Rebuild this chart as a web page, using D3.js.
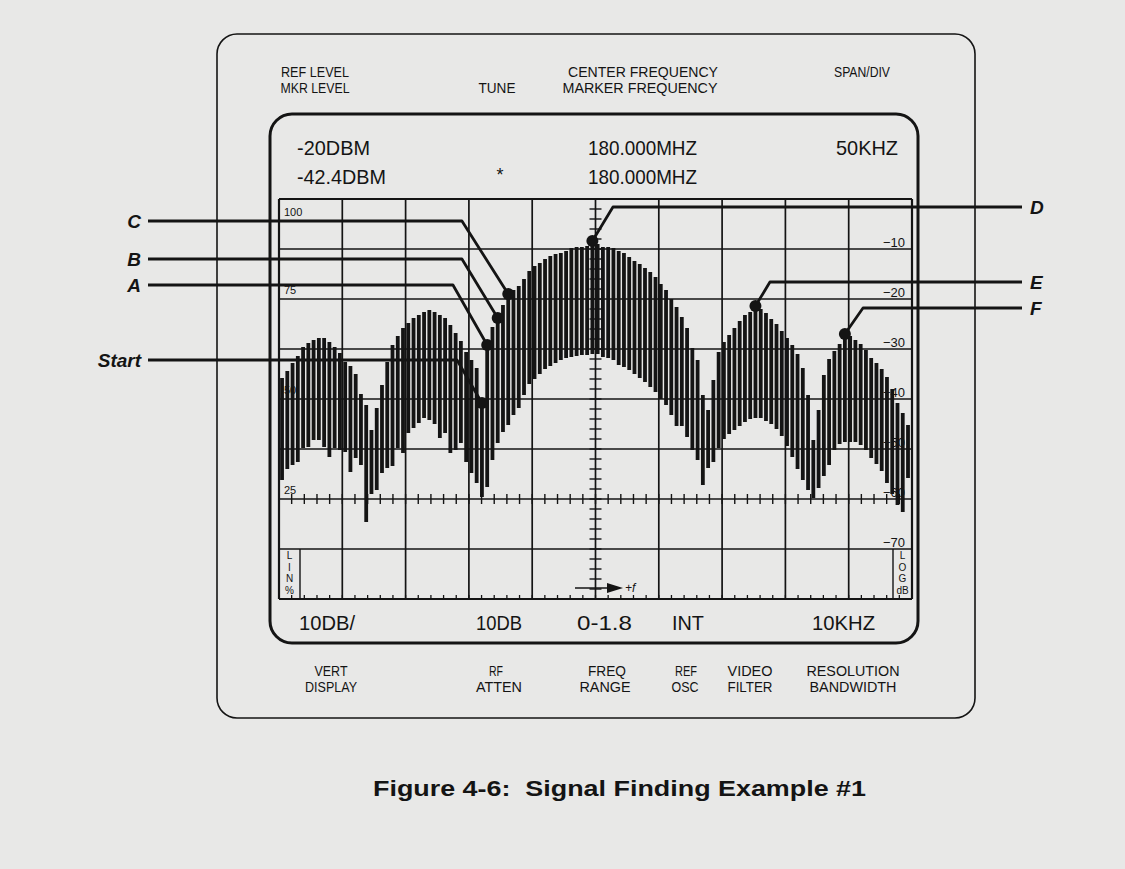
<!DOCTYPE html>
<html>
<head>
<meta charset="utf-8">
<script src="https://cdn.jsdelivr.net/npm/d3@7"></script>
<style>
  html, body { margin: 0; padding: 0; background: #e8e8e7; }
  svg { display: block; }
</style>
</head>
<body>
<svg id="chart" width="1125" height="869"></svg>
<script>
// ---- Spectrum analyzer trace (dB relative to top graticule line) ----
// Each sweep point is drawn as a vertical bar from its upper to its lower level.
const sweepTop = [
  -35.8, -34.4, -32.8, -31.4, -29.6, -28.8, -28.2, -27.8, -27.8, -28.6,
  -29.6, -30.8, -32.6, -33.4, -35.0, -39.0, -41.2, -46.2, -41.8, -37.2,
  -32.6, -29.2, -27.4, -25.8, -24.8, -23.8, -23.2, -22.6, -22.2, -22.6,
  -23.2, -23.8, -25.2, -26.8, -28.4, -30.6, -32.2, -33.8, -40.8, -29.2,
  -25.6, -23.8, -21.2, -19.0, -18.2, -17.4, -16.0, -14.4, -13.4, -12.8,
  -12.0, -11.4, -11.0, -10.8, -10.4, -9.8, -9.6, -9.6, -9.4, -8.4,
  -9.0, -9.6, -9.6, -9.8, -10.4, -10.8, -11.6, -12.4, -13.0, -13.8,
  -14.6, -15.6, -17.0, -18.2, -20.0, -21.6, -23.6, -25.8, -29.8, -32.2,
  -39.2, -42.2, -36.2, -30.6, -28.6, -27.2, -25.8, -24.4, -23.2, -22.6,
  -21.4, -22.0, -22.8, -24.0, -25.0, -26.4, -27.8, -29.2, -31.0, -33.8,
  -39.2, -48.2, -42.2, -35.2, -32.0, -30.4, -29.0, -27.0, -27.4, -28.2,
  -29.0, -30.2, -31.8, -32.8, -34.0, -35.6, -38.0, -40.8, -42.8, -45.2
];
const sweepBottom = [
  -56.2, -54.0, -53.2, -52.6, -49.8, -49.6, -48.2, -48.2, -49.6, -51.6,
  -49.8, -50.2, -50.6, -54.6, -51.8, -53.2, -64.6, -59.0, -58.2, -54.8,
  -53.8, -53.4, -49.8, -50.8, -46.8, -45.8, -44.8, -43.8, -44.2, -45.0,
  -47.8, -46.8, -50.8, -50.2, -48.8, -52.6, -54.8, -56.8, -59.6, -57.6,
  -52.2, -48.8, -46.6, -45.2, -43.2, -41.8, -39.2, -37.0, -36.0, -35.0,
  -34.0, -33.4, -32.8, -32.2, -31.8, -31.6, -31.4, -31.2, -31.2, -31.0,
  -31.0, -31.6, -31.8, -32.2, -33.2, -33.6, -34.2, -35.0, -35.8, -36.6,
  -37.6, -38.6, -40.0, -41.2, -43.2, -45.4, -45.4, -47.6, -50.2, -52.2,
  -57.2, -53.8, -52.6, -49.8, -48.0, -47.0, -46.2, -45.4, -44.6, -44.0,
  -43.8, -43.8, -44.4, -45.0, -46.0, -47.4, -49.4, -51.6, -54.0, -56.2,
  -58.2, -59.8, -57.8, -55.4, -53.2, -50.2, -49.0, -48.6, -48.6, -48.6,
  -49.2, -50.2, -51.8, -53.0, -54.4, -56.8, -59.0, -61.2, -62.6, -55.8
];
// Sweep start and step, kHz from the 180.000 MHz centre (50 kHz / div)
const sweepStartKHz = -247.6;
const sweepStepKHz = 4.155;

// Graticule ticks
const freqTicks = [-250, -200, -150, -100, -50, 0, 50, 100, 150, 200, 250];
const levelTicks = [-80, -70, -60, -50, -40, -30, -20, -10, 0];
const logLabels = [-10, -20, -30, -40, -50, -60, -70];
const linLabels = [100, 75, 50, 25];

// Lettered markers: sweep point, leader level (dB) and bend (kHz)
const markerNames  = ["Start", "A", "B", "C", "D", "E", "F"];
const markerPoints = [38, 39, 41, 43, 59, 90, 107];
const markerSides  = ["left", "left", "left", "left", "right", "right", "right"];
const leaderLevels = [-32.2, -17.2, -12.0, -4.4, -1.6, -16.6, -21.8];
const leaderBends  = [-109.4, -112.6, -105.5, -105.5, 13.8, 137.8, 211.3];

// Instrument readouts
const headerLabels = [
  { t: "REF LEVEL", x: 315, y: 77, w: 68 },
  { t: "MKR LEVEL", x: 315, y: 93, w: 69 },
  { t: "TUNE", x: 497, y: 93, w: 37 },
  { t: "CENTER FREQUENCY", x: 643, y: 77, w: 150 },
  { t: "MARKER FREQUENCY", x: 640, y: 93, w: 155 },
  { t: "SPAN/DIV", x: 862, y: 77, w: 56 }
];
const readouts = [
  { t: "-20DBM", x: 297, y: 155, w: 73 },
  { t: "-42.4DBM", x: 297, y: 184, w: 89 },
  { t: "180.000MHZ", x: 588, y: 155, w: 109 },
  { t: "180.000MHZ", x: 588, y: 184, w: 109 },
  { t: "50KHZ", x: 836, y: 155, w: 62 },
  { t: "10DB/", x: 299, y: 630, w: 56 },
  { t: "10DB", x: 476, y: 630, w: 46 },
  { t: "0-1.8", x: 577, y: 630, w: 55 },
  { t: "INT", x: 672, y: 630, w: 32 },
  { t: "10KHZ", x: 812, y: 630, w: 63 }
];
const footerLabels = [
  { t: "VERT", x: 331, y: 676, w: 33 }, { t: "DISPLAY", x: 331, y: 692, w: 52 },
  { t: "RF", x: 496, y: 676, w: 14 }, { t: "ATTEN", x: 499, y: 692, w: 46 },
  { t: "FREQ", x: 607, y: 676, w: 38 }, { t: "RANGE", x: 605, y: 692, w: 51 },
  { t: "REF", x: 686, y: 676, w: 22 }, { t: "OSC", x: 685, y: 692, w: 27 },
  { t: "VIDEO", x: 750, y: 676, w: 45 }, { t: "FILTER", x: 750, y: 692, w: 45 },
  { t: "RESOLUTION", x: 853, y: 676, w: 93 }, { t: "BANDWIDTH", x: 853, y: 692, w: 87 }
];
const caption = "Figure 4-6:  Signal Finding Example #1";

// ---- Drawing ----
const INK = "#141414";
const svg = d3.select("#chart");
svg.append("rect").attr("width", 1125).attr("height", 869).attr("fill", "#e8e8e7");

const x = d3.scaleLinear().domain([-250, 250]).range([279, 912]);
const y = d3.scaleLinear().domain([-80, 0]).range([599, 199]);
const lin = d3.scaleLinear().domain([0, 100]).range([599, 199]);
const sweepX = i => x(sweepStartKHz + i * sweepStepKHz);
const narrow = "'Liberation Sans Narrow', 'Liberation Sans', Arial, sans-serif";
const sans = "'Liberation Sans', Arial, sans-serif";

// Instrument panel outline and CRT bezel
svg.append("rect").attr("x", 217).attr("y", 34).attr("width", 758).attr("height", 684)
  .attr("rx", 20).attr("fill", "none").attr("stroke", INK).attr("stroke-width", 1.6);
svg.append("rect").attr("x", 270).attr("y", 114).attr("width", 648).attr("height", 529)
  .attr("rx", 22).attr("fill", "none").attr("stroke", INK).attr("stroke-width", 3);

// Text labels
function addText(list, size, anchor, family) {
  svg.append("g").selectAll("text").data(list).join("text")
    .attr("x", d => d.x).attr("y", d => d.y)
    .attr("text-anchor", anchor)
    .attr("font-family", family).attr("font-size", size).attr("fill", INK)
    .attr("textLength", d => d.w).attr("lengthAdjust", "spacingAndGlyphs")
    .text(d => d.t);
}
addText(headerLabels, 14, "middle", narrow);
addText(readouts, 21, "start", narrow);
addText(footerLabels, 14, "middle", narrow);
svg.append("text").attr("x", 500).attr("y", 181).attr("text-anchor", "middle")
  .attr("font-family", sans).attr("font-size", 18).attr("fill", INK).text("*");

// Graticule
const grat = svg.append("g").attr("stroke", INK).attr("fill", "none");
grat.selectAll("line.v").data(freqTicks).join("line")
  .attr("x1", d => x(d)).attr("x2", d => x(d)).attr("y1", y(0)).attr("y2", y(-80))
  .attr("stroke-width", d => (d === -250 || d === 250) ? 2.2 : 1.7);
grat.selectAll("line.h").data(levelTicks).join("line")
  .attr("x1", x(-250)).attr("x2", x(250)).attr("y1", d => y(d)).attr("y2", d => y(d))
  .attr("stroke-width", d => (d === 0 || d === -80) ? 2.2 : 1.7);

// Minor ticks on the centre axes and the bottom edge
const minorLevels = d3.range(-80, 0.1, 2);
const minorFreqs = d3.range(-250, 250.1, 10);
grat.selectAll("line.mv").data(minorLevels).join("line")
  .attr("x1", x(0) - 6).attr("x2", x(0) + 6)
  .attr("y1", d => y(d)).attr("y2", d => y(d)).attr("stroke-width", 1.4);
grat.selectAll("line.mh").data(minorFreqs).join("line")
  .attr("x1", d => x(d)).attr("x2", d => x(d))
  .attr("y1", y(-60) - 5).attr("y2", y(-60) + 5).attr("stroke-width", 1.4);
grat.selectAll("line.mb").data(minorFreqs).join("line")
  .attr("x1", d => x(d)).attr("x2", d => x(d))
  .attr("y1", y(-80) - 4).attr("y2", y(-80)).attr("stroke-width", 1.3);

// LIN % and LOG dB boxes
grat.append("line").attr("x1", 300).attr("x2", 300).attr("y1", y(-70)).attr("y2", y(-80)).attr("stroke-width", 1.4);
grat.append("line").attr("x1", 893).attr("x2", 893).attr("y1", y(-70)).attr("y2", y(-80)).attr("stroke-width", 1.4);
const boxText = (chars, cx, y0, step) => {
  svg.append("g").selectAll("text").data(chars).join("text")
    .attr("x", cx).attr("y", (d, i) => y0 + i * step).attr("text-anchor", "middle")
    .attr("font-family", sans).attr("font-size", 10).attr("fill", INK).text(d => d);
};
boxText(["L", "I", "N", "%"], 289.5, 559, 11.5);
boxText(["L", "O", "G", "dB"], 902.5, 559, 11.5);

// Graticule scale labels
svg.append("g").selectAll("text").data(logLabels).join("text")
  .attr("x", 905).attr("y", d => y(d) - 2).attr("text-anchor", "end")
  .attr("font-family", sans).attr("font-size", 13).attr("fill", INK)
  .text(d => "\u2212" + Math.abs(d));
svg.append("g").selectAll("text").data(linLabels).join("text")
  .attr("x", 284).attr("y", d => d === 100 ? lin(d) + 17 : lin(d) - 5)
  .attr("font-family", sans).attr("font-size", 11).attr("fill", INK)
  .text(d => d);

// +f arrow
svg.append("line").attr("x1", 575).attr("x2", 610).attr("y1", 588).attr("y2", 588)
  .attr("stroke", INK).attr("stroke-width", 1.6);
svg.append("path").attr("d", "M607,583 L623,588 L607,593 Z").attr("fill", INK);
svg.append("text").attr("x", 625).attr("y", 592).attr("font-family", sans)
  .attr("font-style", "italic").attr("font-size", 12).attr("fill", INK).text("+f");

// Trace bars
const barW = 3.8;
svg.append("g").selectAll("rect").data(sweepTop).join("rect")
  .attr("x", (d, i) => sweepX(i) - barW / 2)
  .attr("width", barW)
  .attr("y", d => y(d))
  .attr("height", (d, i) => y(sweepBottom[i]) - y(d))
  .attr("fill", INK);

// Markers and leader lines
const markers = markerNames.map((name, k) => ({
  name, side: markerSides[k],
  mx: sweepX(markerPoints[k]), my: y(sweepTop[markerPoints[k]]),
  ly: y(leaderLevels[k]), bx: x(leaderBends[k])
}));
const lead = svg.append("g");
lead.selectAll("path").data(markers).join("path")
  .attr("d", d => d.side === "left"
    ? `M148,${d.ly} L${d.bx},${d.ly} L${d.mx},${d.my}`
    : `M1022,${d.ly} L${d.bx},${d.ly} L${d.mx},${d.my}`)
  .attr("fill", "none").attr("stroke", INK).attr("stroke-width", 2.8)
  .attr("stroke-linejoin", "round");
lead.selectAll("circle").data(markers).join("circle")
  .attr("cx", d => d.mx).attr("cy", d => d.my).attr("r", 6).attr("fill", INK);
lead.selectAll("text").data(markers).join("text")
  .attr("x", d => d.side === "left" ? 141 : 1030)
  .attr("y", d => d.ly + 7)
  .attr("text-anchor", d => d.side === "left" ? "end" : "start")
  .attr("font-family", sans).attr("font-weight", "bold").attr("font-style", "italic")
  .attr("font-size", 19).attr("fill", INK)
  .text(d => d.name);

// Caption
svg.append("text").attr("x", 373).attr("y", 796)
  .attr("font-family", sans).attr("font-weight", "bold").attr("font-size", 22.5)
  .attr("fill", INK).attr("xml:space", "preserve").style("white-space", "pre")
  .attr("textLength", 493).attr("lengthAdjust", "spacingAndGlyphs")
  .text(caption);
</script>
</body>
</html>
